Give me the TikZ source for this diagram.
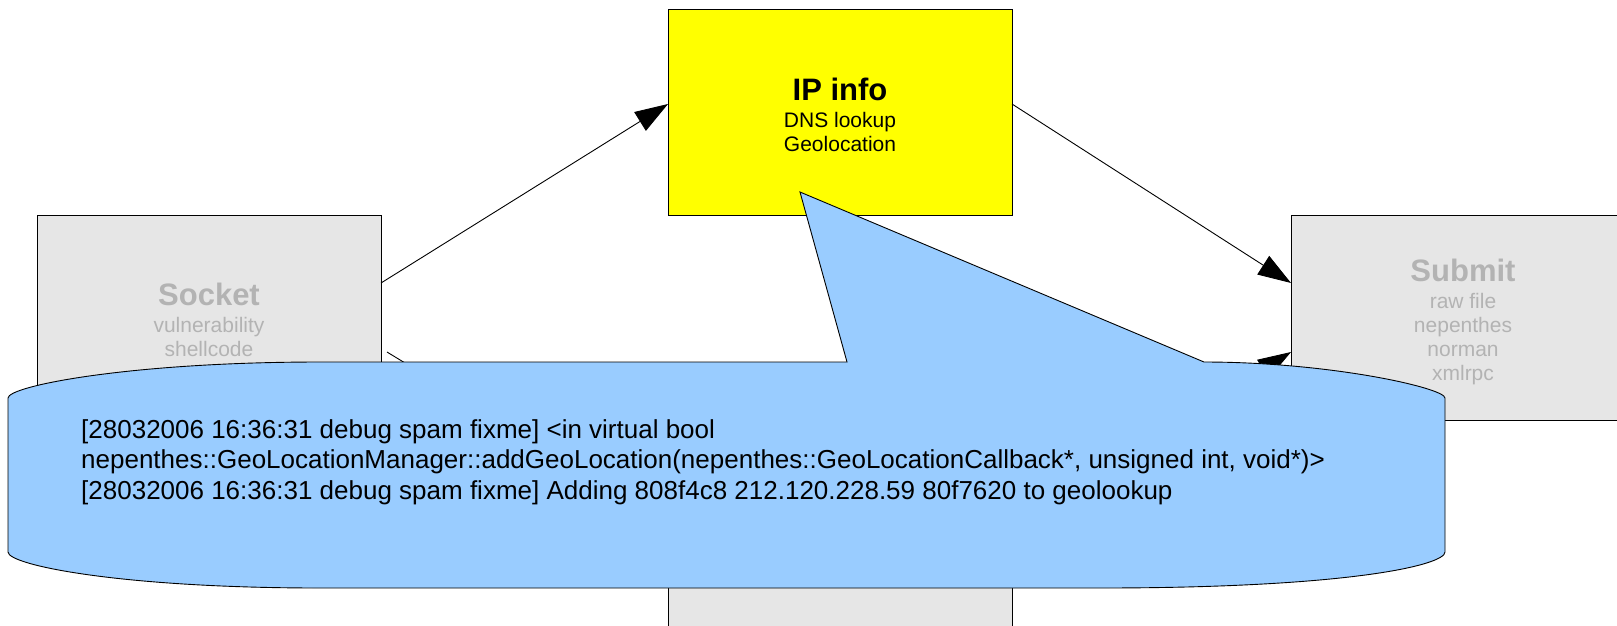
\documentclass[tikz,border=0pt]{standalone}
\usepackage{fontspec}
\setmainfont{Liberation Sans}
\usetikzlibrary{arrows.meta}
\definecolor{boxgray}{HTML}{E6E6E6}
\definecolor{txtgray}{HTML}{B3B3B3}
\definecolor{callblue}{HTML}{99CCFF}
\definecolor{ipyellow}{HTML}{FFFF00}
\tikzset{
  procbox/.style={draw=black, line width=0.9pt, inner sep=0pt, outer sep=0pt, minimum width=344pt},
  graybox/.style={procbox, fill=boxgray},
  ipbox/.style={procbox, fill=ipyellow},
  titletext/.style={anchor=base, inner sep=0pt, font=\fontsize{31}{36}\selectfont\bfseries},
  subtext/.style={anchor=base, inner sep=0pt, font=\fontsize{21}{24}\selectfont},
  flow/.style={draw=black, line width=0.9pt, -{Triangle[length=33pt,width=22pt]}},
  callout/.style={draw=black, line width=0.9pt, fill=callblue},
}
\begin{document}
\begin{tikzpicture}[x=1pt,y=-1pt]
\useasboundingbox (0,0) rectangle (1617,625);
% boxes
\node[graybox, minimum height=205pt] (socket) at (209,317.5) {};
\node[ipbox, minimum height=206pt] (ip) at (840,112) {};
\node[graybox, minimum height=205pt] (submit) at (1463,317.5) {};
\node[graybox, minimum height=206pt] (bottom) at (840,523) {};
% box texts
\node[titletext] (iptitle) at (840,100) {IP info};
\node[subtext] (ipsub) at (840,127) {\begin{tabular}[t]{@{}c@{}}DNS lookup\\Geolocation\end{tabular}};
\node[titletext, text=txtgray] (sockettitle) at (209,305) {Socket};
\node[subtext, text=txtgray] (socketsub) at (209,332) {\begin{tabular}[t]{@{}c@{}}vulnerability\\shellcode\end{tabular}};
\node[titletext, text=txtgray] (submittitle) at (1463,281) {Submit};
\node[subtext, text=txtgray] (submitsub) at (1463,308) {\begin{tabular}[t]{@{}c@{}}raw file\\nepenthes\\norman\\xmlrpc\end{tabular}};
% connectors
\draw[flow] ([yshift=34.5pt]socket.east) -- ([yshift=8pt]ip.west);
\draw[flow] ([yshift=8pt]ip.east) -- ([yshift=34.5pt]submit.west);
\draw[flow] ([xshift=6pt,yshift=-34.5pt]socket.east) -- (bottom.west);
\draw[flow] (bottom.east) -- ([yshift=-34.5pt]submit.west);
% callout
\coordinate (tip) at (800,192);
\path[callout] (847,362) -- (tip) -- (1204,362)
  .. controls (1330,362) and (1445,388) .. (1445,398)
  -- (1445,552)
  .. controls (1445,565) and (1350,588) .. (1100,588)
  -- (320,588)
  .. controls (120,588) and (8,565) .. (8,552)
  -- (8,398)
  .. controls (8,386) and (130,362) .. (320,362)
  -- cycle;
\node[anchor=base west, inner sep=0pt, font=\fontsize{26}{30.5}\selectfont] (calltext) at (81,438)
  {\begin{tabular}[t]{@{}l@{}}{[}28032006 16:36:31 debug spam fixme] <in virtual bool\\
  nepenthes::GeoLocationManager::addGeoLocation(nepenthes::GeoLocationCallback*, unsigned int, void*)>\\
  {[}28032006 16:36:31 debug spam fixme] Adding 808f4c8 212.120.228.59 80f7620 to geolookup\end{tabular}};
\end{tikzpicture}
\end{document}
